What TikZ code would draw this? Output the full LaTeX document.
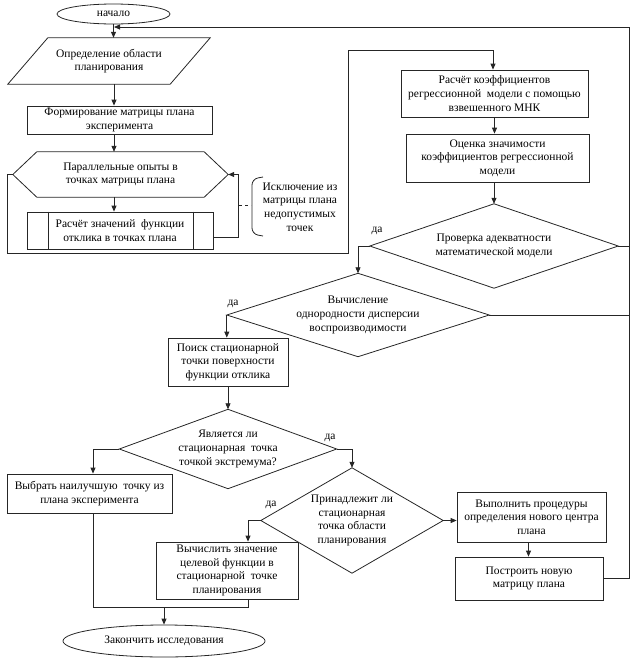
\documentclass[tikz,border=0pt]{standalone}
\usepackage{fontspec}
\setmainfont{Liberation Serif}
\newfontfamily\tnr{Liberation Serif}
\usetikzlibrary{arrows.meta,shapes.geometric}
\newcommand\txt{\tnr\fontsize{11.5}{13.6}\selectfont}
\tikzset{
  ln/.style={line width=0.8pt, draw=black!85},
  arr/.style={ln, -{Triangle[length=6pt,width=5pt]}},
  box/.style={ln, draw, rectangle, align=center, inner sep=1pt, font=\txt},
  ghost/.style={rectangle, align=center, inner sep=1pt, font=\txt},
  term/.style={ln, draw, ellipse, inner sep=0pt, font=\txt},
  yes/.style={font=\txt, inner sep=0pt},
}
\begin{document}
\begin{tikzpicture}[x=1pt,y=-1pt]
\useasboundingbox (0,0) rectangle (642,662);
\coordinate (axis) at (114,0);
% nodes
\node[term, minimum width=113, minimum height=20] (start) at (113.5,14) {начало};
\node[ghost, minimum width=202, minimum height=46] (par) at (109,61) {Определение области\\планирования};
\draw[ln] ([xshift=40]par.north west) -- (par.north east) -- ([xshift=-40]par.south east) -- (par.south west) -- cycle;
\node[box, minimum width=185, minimum height=28] (form) at (119.5,120) {Формирование матрицы плана\\эксперимента};
\node[ghost, minimum width=215, minimum height=45] (hex) at (120.5,174.5) {Параллельные опыты в\\точках матрицы плана};
\draw[ln] (hex.west) -- ([xshift=24]hex.north west) -- ([xshift=-24]hex.north east) -- (hex.east) -- ([xshift=-24]hex.south east) -- ([xshift=24]hex.south west) -- cycle;
\node[box, minimum width=186, minimum height=37] (calc) at (120,230.5) {Расчёт значений\ \ функции\\отклика в точках плана};
\draw[ln] ([xshift=22]calc.north west) -- ([xshift=22]calc.south west);
\draw[ln] ([xshift=-20]calc.north east) -- ([xshift=-20]calc.south east);
\node[ghost, inner sep=0pt] (excl) at (300,207) {Исключение из\\матрицы плана\\недопустимых\\точек};
\draw[ln, rounded corners=6pt] (263,177) -- (252,179) -- (252,234) -- (263,236);
\draw[ln, dashed, dash pattern=on 3pt off 3pt] (239,205) -- (251,205);

\node[box, minimum width=187, minimum height=47] (coef) at (494.5,93.5) {Расчёт коэффициентов\\регрессионной\ \ модели с помощью\\взвешенного МНК};
\node[box, minimum width=183, minimum height=48] (sig) at (497.5,158) {Оценка значимости\\коэффициентов регрессионной\\модели};

\node[ghost, minimum width=248, minimum height=84] (d1) at (494,246) {Проверка адекватности\\математической модели};
\draw[ln] (d1.north) -- (d1.east) -- (d1.south) -- (d1.west) -- cycle;
\node[ghost, minimum width=262, minimum height=83] (d2) at (358,315) {Вычисление\\однородности дисперсии\\воспроизводимости};
\draw[ln] (d2.north) -- (d2.east) -- (d2.south) -- (d2.west) -- cycle;
\node[box, minimum width=120, minimum height=48] (poisk) at (228,362) {Поиск стационарной\\точки поверхности\\функции отклика};
\node[ghost, minimum width=217, minimum height=79] (d3) at (228,449) {Является ли\\стационарная\ \ точка\\точкой экстремума?};
\draw[ln] (d3.north) -- (d3.east) -- (d3.south) -- (d3.west) -- cycle;
\node[box, minimum width=165, minimum height=39] (best) at (89.5,493.5) {Выбрать наилучшую\ \ точку из\\плана эксперимента};
\node[ghost, minimum width=182, minimum height=105] (d4) at (352,520.5) {Принадлежит ли\\стационарная\\точка области\\планирования};
\draw[ln] (d4.north) -- (d4.east) -- (d4.south) -- (d4.west) -- cycle;
\node[box, minimum width=142, minimum height=57] (calcf) at (227,570.5) {Вычислить значение\\целевой функции в\\стационарной\ \ точке\\планирования};
\node[box, minimum width=149, minimum height=50] (newc) at (531.5,517) {Выполнить процедуры\\определения нового центра\\плана};
\node[box, minimum width=148, minimum height=43] (newm) at (529,578.5) {Построить новую\\матрицу плана};
\node[term, minimum width=202, minimum height=32] (end) at (164,641) {Закончить исследования};

% labels
\node[yes] (y1) at (377,231) {да};
\node[yes] (y2) at (233,304) {да};
\node[yes] (y3) at (330,438) {да};
\node[yes] (y4) at (271,505) {да};

% coordinates
\coordinate (lp) at (238,237);
\coordinate (l1) at (7,174.5);
\coordinate (l2) at (7,253);
\coordinate (l3) at (348,253);
\coordinate (l4) at (348,50);
\coordinate (rbot) at (629,578.5);
\coordinate (rtop) at (629,27);
\coordinate (jl) at (93,607);
\coordinate (jr) at (248,607);

% connectors
\draw[arr] (start.south) -- (start.south |- par.north);
\draw[arr] (axis |- par.south) -- (axis |- form.north);
\draw[arr] (axis |- form.south) -- (axis |- hex.north);
\draw[arr] (axis |- hex.south) -- (axis |- calc.north);
\draw[arr] (calc.east |- lp) -- (lp) |- (hex.east);
\draw[arr] (hex.west) -- (l1) -- (l2) -- (l3) -- (l4) -| ([xshift=-1.5]coef.north);
\draw[arr] (coef.south) -- (coef.south |- sig.north);
\draw[arr] (sig.south -| d1.north) -- (d1.north);
\draw[arr] (d1.west) -| (d2.north);
\draw[ln] (d1.east) -- (d1.east -| rtop);
\draw[ln] (d2.east) -- (d2.east -| rtop);
\draw[arr] (d2.west) -- (d2.west |- poisk.north);
\draw[arr] (poisk.south) -- (d3.north);
\draw[arr] (d3.west) -| ([xshift=3.5]best.north);
\draw[arr] (d3.east) -| (d4.north);
\draw[arr] (d4.west) -| ([xshift=21]calcf.north);
\draw[arr] (d4.east) -- (d4.east -| newc.west);
\draw[arr] ([xshift=-3]newc.south) -- ([xshift=-3]newc.south |- newm.north);
\draw[arr] (newm.east) -- (rbot) -- (rtop) -- (axis |- rtop);
\draw[ln] ([xshift=3.5]best.south) -- (jl) -- (jr) -- ([xshift=21]calcf.south);
\draw[arr] (end.north |- jl) -- (end.north);
\end{tikzpicture}
\end{document}
